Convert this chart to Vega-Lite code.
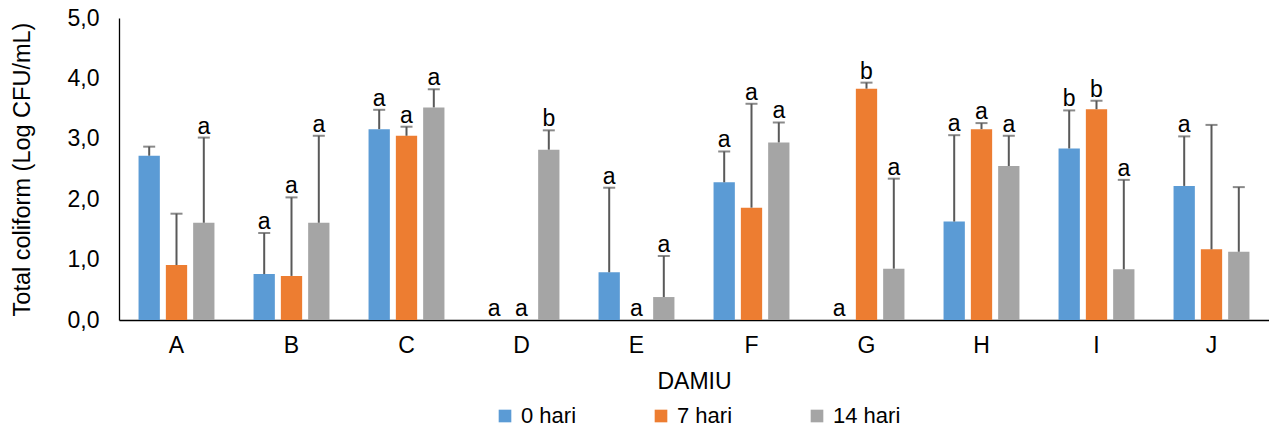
{
  "$schema": "https://vega.github.io/schema/vega-lite/v6.json",
  "width": 1150,
  "height": 302,
  "autosize": {"type": "none"},
  "padding": {"left": 119, "top": 18, "right": 0, "bottom": 110},
  "background": "white",
  "config": {
    "view": {"stroke": null},
    "font": "Liberation Sans",
    "axis": {"grid": false, "ticks": false, "domainColor": "#000000", "domainWidth": 1.3, "labelColor": "#000000", "titleColor": "#000000", "labelFont": "Liberation Sans", "titleFont": "Liberation Sans", "titleFontWeight": "normal"},
    "legend": {"labelFont": "Liberation Sans", "labelColor": "#000000"}
  },
  "data": {
    "values": [
      {"DAMIU": "A", "hari": "0 hari", "value": 2.72, "upper": 2.87, "label": ""},
      {"DAMIU": "A", "hari": "7 hari", "value": 0.91, "upper": 1.76, "label": ""},
      {"DAMIU": "A", "hari": "14 hari", "value": 1.61, "upper": 3.02, "label": "a"},
      {"DAMIU": "B", "hari": "0 hari", "value": 0.76, "upper": 1.44, "label": "a"},
      {"DAMIU": "B", "hari": "7 hari", "value": 0.73, "upper": 2.03, "label": "a"},
      {"DAMIU": "B", "hari": "14 hari", "value": 1.61, "upper": 3.05, "label": "a"},
      {"DAMIU": "C", "hari": "0 hari", "value": 3.16, "upper": 3.48, "label": "a"},
      {"DAMIU": "C", "hari": "7 hari", "value": 3.05, "upper": 3.2, "label": "a"},
      {"DAMIU": "C", "hari": "14 hari", "value": 3.52, "upper": 3.82, "label": "a"},
      {"DAMIU": "D", "hari": "0 hari", "value": 0, "upper": 0, "label": "a"},
      {"DAMIU": "D", "hari": "7 hari", "value": 0, "upper": 0, "label": "a"},
      {"DAMIU": "D", "hari": "14 hari", "value": 2.82, "upper": 3.14, "label": "b"},
      {"DAMIU": "E", "hari": "0 hari", "value": 0.79, "upper": 2.19, "label": "a"},
      {"DAMIU": "E", "hari": "7 hari", "value": 0, "upper": 0, "label": "a"},
      {"DAMIU": "E", "hari": "14 hari", "value": 0.38, "upper": 1.06, "label": "a"},
      {"DAMIU": "F", "hari": "0 hari", "value": 2.28, "upper": 2.79, "label": "a"},
      {"DAMIU": "F", "hari": "7 hari", "value": 1.86, "upper": 3.58, "label": "a"},
      {"DAMIU": "F", "hari": "14 hari", "value": 2.94, "upper": 3.27, "label": "a"},
      {"DAMIU": "G", "hari": "0 hari", "value": 0, "upper": 0, "label": "a"},
      {"DAMIU": "G", "hari": "7 hari", "value": 3.83, "upper": 3.93, "label": "b"},
      {"DAMIU": "G", "hari": "14 hari", "value": 0.85, "upper": 2.34, "label": "a"},
      {"DAMIU": "H", "hari": "0 hari", "value": 1.63, "upper": 3.06, "label": "a"},
      {"DAMIU": "H", "hari": "7 hari", "value": 3.16, "upper": 3.26, "label": "a"},
      {"DAMIU": "H", "hari": "14 hari", "value": 2.55, "upper": 3.05, "label": "a"},
      {"DAMIU": "I", "hari": "0 hari", "value": 2.84, "upper": 3.47, "label": "b"},
      {"DAMIU": "I", "hari": "7 hari", "value": 3.49, "upper": 3.63, "label": "b"},
      {"DAMIU": "I", "hari": "14 hari", "value": 0.84, "upper": 2.32, "label": "a"},
      {"DAMIU": "J", "hari": "0 hari", "value": 2.22, "upper": 3.04, "label": "a"},
      {"DAMIU": "J", "hari": "7 hari", "value": 1.17, "upper": 3.23, "label": ""},
      {"DAMIU": "J", "hari": "14 hari", "value": 1.13, "upper": 2.2, "label": ""}
    ]
  },
  "encoding": {
    "x": {
      "field": "DAMIU", "type": "nominal",
      "scale": {"paddingInner": 0.34, "paddingOuter": 0.17},
      "axis": {"labelAngle": 0, "labelFontSize": 23, "labelPadding": 14, "title": "DAMIU", "titleFontSize": 23, "titlePadding": 13}
    },
    "xOffset": {
      "field": "hari", "type": "nominal",
      "sort": ["0 hari", "7 hari", "14 hari"],
      "scale": {"paddingInner": 0.22, "paddingOuter": 0}
    }
  },
  "layer": [
    {
      "mark": {"type": "bar"},
      "encoding": {
        "y": {
          "field": "value", "type": "quantitative",
          "scale": {"domain": [0, 5], "nice": false},
          "axis": {"values": [0, 1, 2, 3, 4, 5], "labelExpr": "replace(format(datum.value, '.1f'), '.', ',')", "labelFontSize": 23, "labelPadding": 20, "title": "Total coliform (Log CFU/mL)", "titleFontSize": 23.5, "titlePadding": 33}
        },
        "color": {
          "field": "hari", "type": "nominal",
          "scale": {"domain": ["0 hari", "7 hari", "14 hari"], "range": ["#5B9BD5", "#ED7D31", "#A5A5A5"]},
          "legend": {"title": null, "orient": "none", "direction": "horizontal", "legendX": 375, "legendY": 387, "symbolType": "square", "symbolSize": 160, "symbolStrokeWidth": 0, "labelFontSize": 22, "labelOffset": 5, "columnPadding": 73, "padding": 0}
        }
      }
    },
    {
      "transform": [{"filter": "datum.upper > datum.value"}],
      "mark": {"type": "rule", "color": "#595959", "strokeWidth": 2},
      "encoding": {
        "y": {"field": "value", "type": "quantitative"},
        "y2": {"field": "upper"}
      }
    },
    {
      "transform": [{"filter": "datum.upper > datum.value"}],
      "mark": {"type": "tick", "color": "#595959", "thickness": 2, "size": 12},
      "encoding": {
        "y": {"field": "upper", "type": "quantitative"}
      }
    },
    {
      "transform": [{"filter": "datum.label != ''"}],
      "mark": {"type": "text", "fontSize": 23, "baseline": "alphabetic", "dy": -4, "color": "#000000", "font": "Liberation Sans"},
      "encoding": {
        "y": {"field": "upper", "type": "quantitative"},
        "text": {"field": "label"}
      }
    }
  ]
}
